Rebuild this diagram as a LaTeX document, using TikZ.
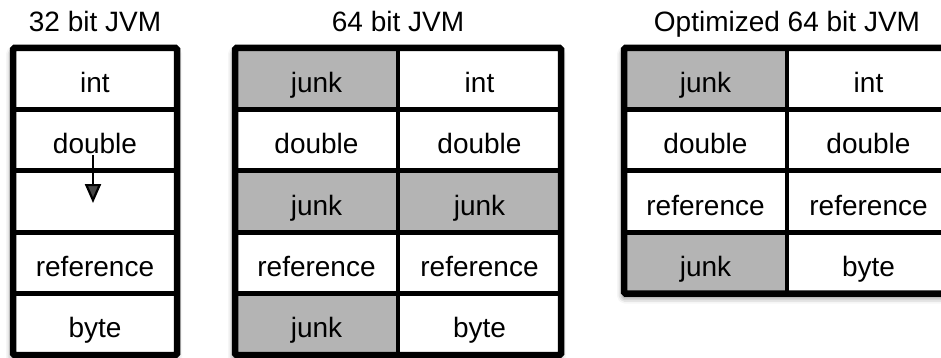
\documentclass[tikz,border=0pt]{standalone}
\usepackage{fontspec}
\setmainfont{Liberation Sans}
\usetikzlibrary{shadows.blur,arrows.meta}
\definecolor{junkgray}{RGB}{180,180,180}
\begin{document}
\begin{tikzpicture}[x=1pt,y=-1pt,
  font=\fontsize{28}{32}\selectfont,
  cellbox/.style={rectangle, inner sep=0pt, minimum height=61.4pt,
    text height=30pt, text depth=3pt, fill=white},
  junkcell/.style={cellbox, fill=junkgray},
  tableshadow/.style={fill=white, rounded corners=1.5pt,
    blur shadow={shadow xshift=-1pt, shadow yshift=-4pt, shadow blur radius=6pt, shadow opacity=55}},
  outerline/.style={line width=6.5pt, rounded corners=1.5pt},
  rowline/.style={line width=5pt},
  colline/.style={line width=3.5pt},
  title/.style={anchor=base}]
\useasboundingbox (0,0) rectangle (941,358);
\clip (0,0) rectangle (941,358);

% titles
\node[title] (t1) at (95,32) {32 bit JVM};
\node[title] (t2) at (398,32) {64 bit JVM};
\node[title] (t3) at (787,32) {Optimized 64 bit JVM};

% ---------- table 1 ----------
\fill[tableshadow] (13,48) rectangle (177,355);
\node[cellbox, minimum width=164pt] (a1) at (95,78.7) {int};
\node[cellbox, minimum width=164pt] (a2) at (95,140.1) {double};
\node[cellbox, minimum width=164pt] (a3) at (95,201.5) {};
\node[cellbox, minimum width=164pt] (a4) at (95,262.9) {reference};
\node[cellbox, minimum width=164pt] (a5) at (95,324.3) {byte};
\draw[rowline] (13,109.4) -- (177,109.4);
\draw[rowline] (13,170.8) -- (177,170.8);
\draw[rowline] (13,232.2) -- (177,232.2);
\draw[rowline] (13,293.6) -- (177,293.6);
\draw[outerline] (13,48) rectangle (177,355);
\coordinate (arrS) at (93,155);
\coordinate (arrE) at (93,203);
\draw[line width=2.2pt, -{Triangle[length=19pt,width=16pt]}] (arrS) -- (arrE);

% ---------- table 2 ----------
\fill[tableshadow] (235,48) rectangle (561,355);
\node[junkcell, minimum width=163pt] (b1l) at (316.5,78.7) {junk};
\node[cellbox, minimum width=163pt] (b1r) at (479.5,78.7) {int};
\node[cellbox, minimum width=163pt] (b2l) at (316.5,140.1) {double};
\node[cellbox, minimum width=163pt] (b2r) at (479.5,140.1) {double};
\node[junkcell, minimum width=163pt] (b3l) at (316.5,201.5) {junk};
\node[junkcell, minimum width=163pt] (b3r) at (479.5,201.5) {junk};
\node[cellbox, minimum width=163pt] (b4l) at (316.5,262.9) {reference};
\node[cellbox, minimum width=163pt] (b4r) at (479.5,262.9) {reference};
\node[junkcell, minimum width=163pt] (b5l) at (316.5,324.3) {junk};
\node[cellbox, minimum width=163pt] (b5r) at (479.5,324.3) {byte};
\draw[colline] (398,48) -- (398,355);
\draw[rowline] (235,109.4) -- (561,109.4);
\draw[rowline] (235,170.8) -- (561,170.8);
\draw[rowline] (235,232.2) -- (561,232.2);
\draw[rowline] (235,293.6) -- (561,293.6);
\draw[outerline] (235,48) rectangle (561,355);

% ---------- table 3 ----------
\fill[tableshadow] (624,48) rectangle (950,293.6);
\node[junkcell, minimum width=163pt] (c1l) at (705.5,78.7) {junk};
\node[cellbox, minimum width=163pt] (c1r) at (868.5,78.7) {int};
\node[cellbox, minimum width=163pt] (c2l) at (705.5,140.1) {double};
\node[cellbox, minimum width=163pt] (c2r) at (868.5,140.1) {double};
\node[cellbox, minimum width=163pt] (c3l) at (705.5,201.5) {reference};
\node[cellbox, minimum width=163pt] (c3r) at (868.5,201.5) {reference};
\node[junkcell, minimum width=163pt] (c4l) at (705.5,262.9) {junk};
\node[cellbox, minimum width=163pt] (c4r) at (868.5,262.9) {byte};
\draw[colline] (787,48) -- (787,293.6);
\draw[rowline] (624,109.4) -- (950,109.4);
\draw[rowline] (624,170.8) -- (950,170.8);
\draw[rowline] (624,232.2) -- (950,232.2);
\draw[outerline] (624,48) rectangle (950,293.6);
\end{tikzpicture}
\end{document}
